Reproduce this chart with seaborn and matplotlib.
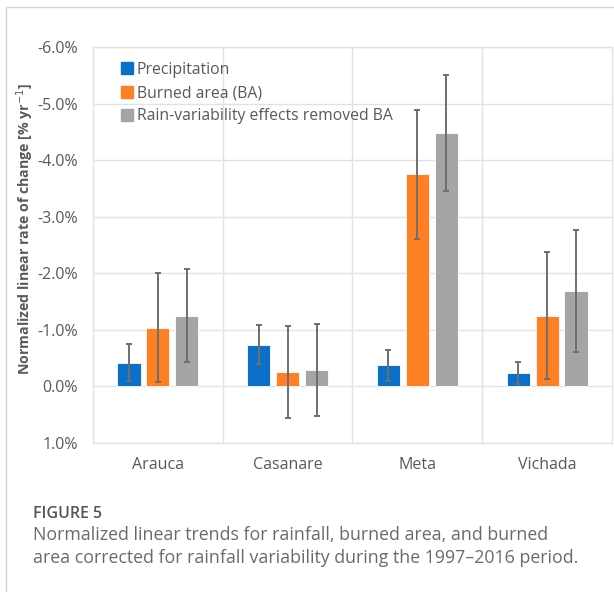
import matplotlib
matplotlib.use("Agg")
import matplotlib.pyplot as plt
from matplotlib.ticker import FuncFormatter, MultipleLocator
from matplotlib.lines import Line2D
import seaborn as sns
import pandas as pd

# Departments and normalized linear trends (% per year)
departments = ["Arauca", "Casanare", "Meta", "Vichada"]
series_names = ["Precipitation", "Burned area (BA)", "Rain-variability effects removed BA"]
precipitation = [-0.42, -0.74, -0.37, -0.24]
burned_area = [-1.04, -0.25, -3.75, -1.25]
ba_rain_removed = [-1.25, -0.29, -4.48, -1.68]
# Half-widths of the uncertainty bars
precipitation_err = [0.33, 0.34, 0.27, 0.20]
burned_area_err = [0.96, 0.81, 1.14, 1.12]
ba_rain_removed_err = [0.82, 0.81, 1.03, 1.08]

colors = ["#0A6FC9", "#FF7F22", "#A5A5A5"]
text_grey = "#595959"
grid_grey = "#E2E2E2"

values = [precipitation, burned_area, ba_rain_removed]
errors = [precipitation_err, burned_area_err, ba_rain_removed_err]

df = pd.DataFrame({
    "department": departments * 3,
    "series": [s for s in series_names for _ in departments],
    "value": precipitation + burned_area + ba_rain_removed,
})

sns.set_theme(style="white")
plt.rcParams["font.family"] = ["Open Sans", "DejaVu Sans"]

fig = plt.figure(figsize=(6.14, 5.92), dpi=100)
ax = fig.add_axes([0.1515, 0.2517, 0.8452, 0.6689])

sns.barplot(data=df, x="department", y="value", hue="series",
            hue_order=series_names, order=departments, palette=colors,
            width=0.67, gap=0.2, errorbar=None, saturation=1,
            edgecolor="white", linewidth=0.6, ax=ax, legend=False, zorder=3)

# Uncertainty bars centred on each bar
for cont, err in zip(ax.containers, errors):
    xs = [b.get_x() + b.get_width() / 2 for b in cont]
    ys = [b.get_y() + b.get_height() for b in cont]
    ax.errorbar(xs, ys, yerr=err, fmt="none", ecolor="#6E6E6E",
                elinewidth=1.4, capsize=2.5, capthick=1.4, zorder=4)

ax.set_ylim(1.0, -6.0)
ax.set_xlim(-0.5, len(departments) - 0.5)
ax.yaxis.set_major_locator(MultipleLocator(1.0))
ax.yaxis.set_major_formatter(FuncFormatter(lambda v, p: f"{v + 0.0:.1f}%"))
ax.grid(axis="y", color=grid_grey, linewidth=1.0, zorder=0)
for xb in [0.5, 1.5, 2.5]:
    ax.axvline(xb, color=grid_grey, linewidth=1.0, zorder=0)
for sp in ax.spines.values():
    sp.set_color(grid_grey)
    sp.set_linewidth(1.0)

ax.tick_params(axis="both", length=0, labelsize=11.5, colors=text_grey)
ax.tick_params(axis="y", pad=11)
ax.tick_params(axis="x", pad=10)
ax.set_xlabel("")
ax.set_ylabel("Normalized linear rate of change [% yr$^{-1}$]", fontsize=10.2,
              fontweight="bold", color=text_grey)
ax.yaxis.set_label_coords(-0.110, 0.54)

handles = [Line2D([0], [0], marker="s", linestyle="none", markersize=8,
                  markerfacecolor=c, markeredgecolor=c) for c in colors]
leg = ax.legend(handles, series_names, loc="upper left", bbox_to_anchor=(0.033, 0.99),
                frameon=False, fontsize=11.3, handlelength=0.7, handletextpad=0.3,
                labelspacing=0.45, borderaxespad=0.3)
for t in leg.get_texts():
    t.set_color(text_grey)

# Page frame and caption
fig.add_artist(Line2D([6 / 614, 6 / 614], [0, 1 - 7 / 592], color="#D5D5D5", linewidth=1.0))
fig.add_artist(Line2D([6 / 614, 1], [1 - 7 / 592, 1 - 7 / 592], color="#D5D5D5", linewidth=1.0))
cap_font = ["Open Sans", "DejaVu Sans"]
fig.text(33 / 614, 1 - 514 / 592, "FIGURE 5", fontsize=11.5, fontweight="semibold",
         color="#555555", va="center", family=cap_font)
fig.text(33 / 614, 1 - 535 / 592,
         "Normalized linear trends for rainfall, burned area, and burned",
         fontsize=12.8, color="#6A6A6A", va="center", family=cap_font)
fig.text(33 / 614, 1 - 558 / 592,
         "area corrected for rainfall variability during the 1997\u20132016 period.",
         fontsize=12.8, color="#6A6A6A", va="center", family=cap_font)

fig.savefig("out.png", dpi=100)
